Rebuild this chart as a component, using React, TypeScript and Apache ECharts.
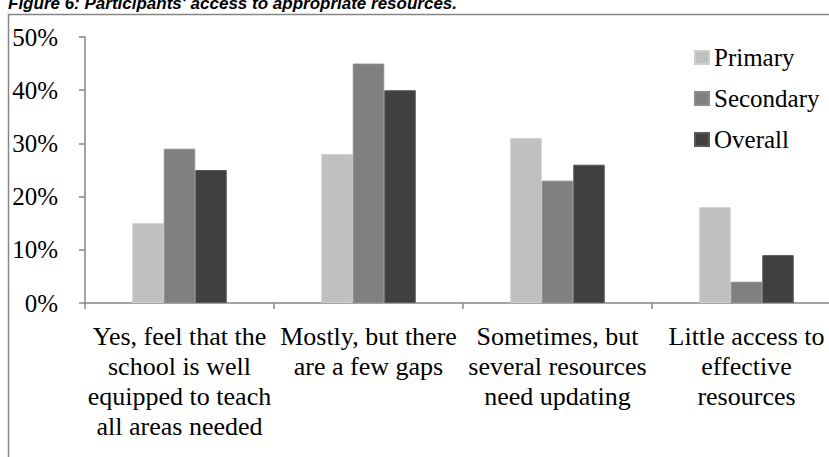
import React, { useEffect, useRef } from "react";
import * as echarts from "echarts";

const categories = [
  "Yes, feel that the\nschool is well\nequipped to teach\nall areas needed",
  "Mostly, but there\nare a few gaps",
  "Sometimes, but\nseveral resources\nneed updating",
  "Little access to\neffective\nresources",
];
const primary = [15, 28, 31, 18];
const secondary = [29, 45, 23, 4];
const overall = [25, 40, 26, 9];
const seriesNames = ["Primary", "Secondary", "Overall"];
const titleText = "Figure 6: Participants' access to appropriate resources.";

const SERIF = "Times New Roman";
const AXIS_GRAY = "#868686";

export default function App() {
  const ref = useRef<HTMLDivElement>(null);

  useEffect(() => {
    if (!ref.current) return;
    const chart = echarts.init(ref.current, undefined, { renderer: "svg" });
    const bar = (name: string, data: number[], color: string, border: string) => ({
      name,
      type: "bar",
      data,
      barGap: "0%",
      barCategoryGap: "50%",
      itemStyle: { color, borderColor: border, borderWidth: 1 },
    });
    chart.setOption({
      animation: false,
      backgroundColor: "#ffffff",
      textStyle: { fontFamily: SERIF },
      graphic: [
        {
          type: "rect",
          shape: { x: 8.5, y: 14.5, width: 1000, height: 800 },
          style: { fill: "none", stroke: AXIS_GRAY, lineWidth: 1.5 },
          silent: true,
        },
        {
          type: "text",
          x: 8,
          y: 3,
          style: {
            text: titleText,
            fill: "#000000",
            font: "italic bold 17px Arial",
            verticalAlign: "middle",
            align: "left",
          },
        },
      ],
      legend: {
        orient: "vertical",
        left: 689,
        top: 40,
        itemWidth: 14,
        itemHeight: 13,
        itemGap: 16,
        icon: "rect",
        data: seriesNames,
        textStyle: { fontFamily: SERIF, fontSize: 25, color: "#000000" },
      },
      grid: { left: 85, top: 37, width: 756, height: 266, containLabel: false },
      xAxis: {
        type: "category",
        data: categories,
        axisLine: { show: true, lineStyle: { color: AXIS_GRAY, width: 1.5 } },
        axisTick: { show: true, alignWithLabel: false, length: 6, lineStyle: { color: AXIS_GRAY, width: 1.5 } },
        axisLabel: {
          interval: 0,
          margin: 18,
          fontFamily: SERIF,
          fontSize: 26,
          lineHeight: 30,
          color: "#000000",
          align: "center",
        },
      },
      yAxis: {
        type: "value",
        min: 0,
        max: 50,
        interval: 10,
        axisLine: { show: true, lineStyle: { color: AXIS_GRAY, width: 1.5 } },
        axisTick: { show: true, length: 6, lineStyle: { color: AXIS_GRAY, width: 1.5 } },
        splitLine: { show: false },
        axisLabel: {
          formatter: "{value}%",
          margin: 27,
          fontFamily: SERIF,
          fontSize: 25,
          color: "#000000",
        },
      },
      series: [
        bar(seriesNames[0], primary, "#c0c0c0", "#cfcfcf"),
        bar(seriesNames[1], secondary, "#808080", "#8c8c8c"),
        bar(seriesNames[2], overall, "#404040", "#5a5a5a"),
      ],
    });
    return () => chart.dispose();
  }, []);

  return (
    <div
      style={{
        position: "fixed",
        left: 0,
        top: 0,
        width: 829,
        height: 457,
        overflow: "hidden",
        background: "#ffffff",
      }}
    >
      <div ref={ref} style={{ width: 1000, height: 600 }} />
    </div>
  );
}
